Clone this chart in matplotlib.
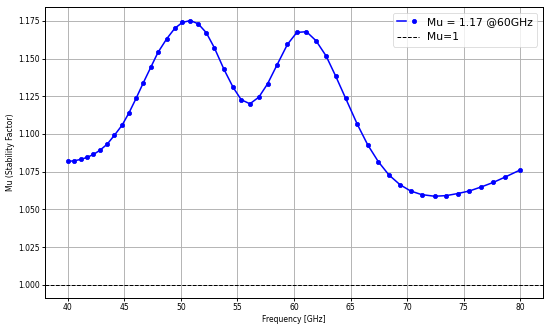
import matplotlib
matplotlib.use("Agg")
import matplotlib.pyplot as plt
from matplotlib.lines import Line2D
from matplotlib.legend_handler import HandlerTuple

# marker positions
freq = [40.00, 40.56, 41.12, 41.67, 42.26, 42.85, 43.47, 44.12, 44.79, 45.41,
        46.03, 46.68, 47.33, 47.97, 48.74, 49.45, 50.12, 50.83, 51.53, 52.24,
        52.95, 53.80, 54.62, 55.33, 56.10, 56.89, 57.66, 58.48, 59.42, 60.25,
        61.10, 61.95, 62.84, 63.69, 64.57, 65.60, 66.52, 67.46, 68.40, 69.37,
        70.31, 71.28, 72.43, 73.46, 74.49, 75.52, 76.58, 77.64, 78.70, 80.00]
mu = [1.0818, 1.0822, 1.0831, 1.0844, 1.0864, 1.0893, 1.0932, 1.0992, 1.1058, 1.1141,
      1.1236, 1.1341, 1.1442, 1.1541, 1.1631, 1.1700, 1.1739, 1.1752, 1.1730, 1.1671,
      1.1572, 1.1429, 1.1308, 1.1227, 1.1200, 1.1244, 1.1332, 1.1455, 1.1594, 1.1673,
      1.1678, 1.1618, 1.1517, 1.1383, 1.1236, 1.1064, 1.0928, 1.0816, 1.0728, 1.0664,
      1.0622, 1.0598, 1.0587, 1.0591, 1.0605, 1.0622, 1.0649, 1.0679, 1.0715, 1.0761]
mu_ref = 1.0

fig = plt.figure(figsize=(10, 328 / 55), dpi=55)
ax = fig.add_axes([0.0824, 0.0915, 0.9043, 0.8862])

ax.plot(freq, mu, color="blue", linewidth=2, marker="o", markersize=5.5)
ref = ax.axhline(mu_ref, color="black", linestyle="--", linewidth=1.3)

ax.set_xlabel("Frequency [GHz]")
ax.set_ylabel("Mu (Stability Factor)")
ax.grid(True, linewidth=1.2)
for s in ax.spines.values():
    s.set_linewidth(1.3)
ax.tick_params(width=1.2)

line_proxy = Line2D([], [], color="blue", linewidth=2)
dot_proxy = Line2D([], [], color="blue", marker="o", markersize=5.5, linestyle="none")
ax.legend([(line_proxy, dot_proxy), ref], ["Mu = 1.17 @60GHz", "Mu=1"],
          handler_map={tuple: HandlerTuple(ndivide=None, pad=0.3)},
          loc="upper right", fontsize=14)

fig.savefig("out.png", dpi=55)
